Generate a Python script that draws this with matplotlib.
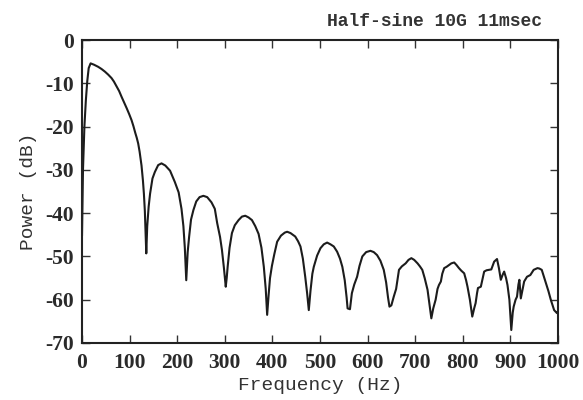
import matplotlib
matplotlib.use("Agg")
import matplotlib.pyplot as plt

# values (Hz, dB)
freq = [0, 2, 5, 8, 11, 14, 18, 25, 34, 41, 48, 55, 62, 67, 72, 78, 83, 88, 94, 99, 104,
        108, 112, 115, 118, 121, 125, 128, 130, 132, 133,
        135, 137, 140, 143, 148, 153, 160, 167, 175, 185, 195, 203, 209, 213, 216, 219,
        222, 225, 229, 234, 240, 247, 255, 263, 272, 279, 284, 290, 294, 298, 302, 304,
        306, 310, 315, 321, 329, 336, 343, 350, 357, 364, 371, 377, 382, 386, 389, 392,
        395, 399, 404, 410, 418, 426, 431, 438, 448, 454, 459, 464, 469, 473, 476.5, 480,
        484, 487, 494, 501, 508, 515, 522, 529, 536, 542, 547, 552, 556, 558, 563, 567,
        572, 578, 583, 589, 597, 606, 613, 620, 627, 634, 639, 643, 646, 650, 655, 660,
        666, 672, 680, 686, 692, 698, 705, 710, 715, 720, 726, 730, 734, 738, 743, 747,
        750, 754, 757, 761, 766, 771, 776, 782, 787, 792, 797, 803, 807, 810, 815, 820,
        824, 827, 830, 832, 838, 842, 845, 850, 855, 860, 866, 872, 876, 880, 884, 887,
        891, 894, 898, 902, 905, 907, 911, 914, 917, 919, 922, 926, 929, 935, 942, 949,
        957, 961, 966, 970, 975, 980, 985, 992, 998, 1000]
power = [-45, -30, -20, -14, -9.5, -6.5, -5.4, -5.7, -6.2, -6.7, -7.3, -8.0, -8.8, -9.6,
         -10.6, -11.8, -13.1, -14.3, -15.8, -17.1, -18.5,
         -19.9, -21.5, -22.6, -23.9, -25.8, -29.0, -32.5, -35.5, -39.5, -43,
         -49.3, -43, -38.5, -35.5, -32, -30.5, -28.9,
         -28.5, -29, -30.2, -32.8, -35.2, -39, -43, -48, -55.5, -49, -45.5, -41.5, -39.3,
         -37.3, -36.3, -36, -36.3, -37.5, -39, -42.3, -45.5, -48.5, -52.5, -57, -55, -52.4,
         -48, -44.6, -42.8, -41.6, -40.8, -40.6, -41, -41.6, -43, -44.8, -48, -52.4, -57.5,
         -63.5, -59, -55, -52.2, -49.5, -46.6, -45.2, -44.5, -44.3, -44.6, -45.4, -46.5,
         -47.7, -50.5, -54.7, -58.5, -62.4, -58, -54, -52.4, -49.8, -48.1, -47.2, -46.8,
         -47.2, -47.7, -48.9, -50.5, -52.4, -55.5, -59.5, -62, -62.2, -58.5, -56.5, -54.7,
         -52.2, -50, -49, -48.7, -49, -49.7, -51, -53.1, -56, -59.5, -61.6, -61.3, -59.3,
         -57.5, -53.1, -52.3, -51.6, -50.8, -50.4, -50.8, -51.6, -52.3, -53.1, -55, -57.7,
         -61, -64.3, -62, -60, -57.5, -56.6, -55.8, -54, -52.7, -52.4, -52, -51.6, -51.4,
         -52, -52.7, -53.3, -53.9, -55.5, -57, -60, -63.9, -62, -60.8, -58.5, -57.3, -57,
         -55, -53.5, -53.2, -53.1, -53, -51.2, -50.6, -52.7, -55.4, -54.2, -53.5, -55,
         -56.6, -60, -67, -63, -61.6, -60, -59.3, -56.5, -55.4, -59.7, -57.5, -55.8, -54.7,
         -54.3, -53.1, -52.7, -52.8, -53.1, -54.5, -56.2, -58, -60, -62.4, -63.1, -62.8]

xticks = [0, 100, 200, 300, 400, 500, 600, 700, 800, 900, 1000]
yticks = [0, -10, -20, -30, -40, -50, -60, -70]

fig = plt.figure(figsize=(5.83, 4.0), dpi=100)
ax = fig.add_axes([0.1407, 0.1425, 0.8163, 0.7575])

ax.plot(freq, power, color="#1c1c1c", linewidth=1.5, solid_joinstyle="round")

ax.set_xlim(0, 1000)
ax.set_ylim(-70, 0)
ax.set_xticks(xticks)
ax.set_yticks(yticks)
ax.set_xticklabels([str(t) for t in xticks], family="Liberation Serif", fontsize=15.5, weight="bold", color="#2a2a2a")
ax.set_yticklabels([str(t) for t in yticks], family="Liberation Serif", fontsize=15.5, weight="bold", color="#2a2a2a")
ax.tick_params(direction="in", top=True, right=True, length=6, width=1.0, color="#333333")
ax.tick_params(axis="x", pad=7)
ax.tick_params(axis="y", pad=6)
for s in ax.spines.values():
    s.set_linewidth(1.5)
    s.set_color("#222222")

ax.set_xlabel("Frequency (Hz)", family="Liberation Mono", fontsize=14, color="#333333", labelpad=3)
ax.set_ylabel("Power (dB)", family="Liberation Mono", fontsize=14, color="#333333", labelpad=6)
fig.text(0.93, 0.945, "Half-sine 10G 11msec", family="Liberation Mono", fontsize=13,
         weight="bold", color="#333333", ha="right", va="center")

fig.savefig("out.png", dpi=100, facecolor="white")
